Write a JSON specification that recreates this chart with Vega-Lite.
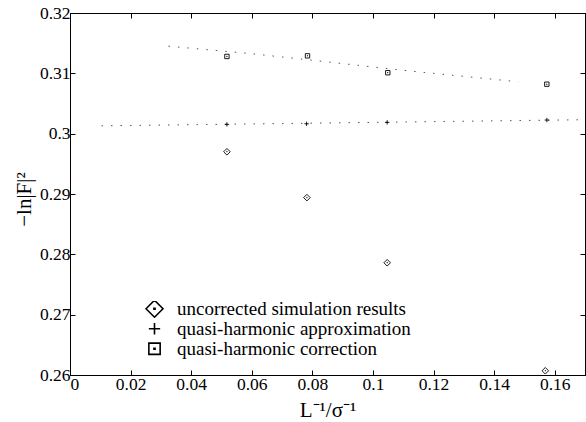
{
  "$schema": "https://vega.github.io/schema/vega-lite/v6.json",
  "width": 515,
  "height": 362,
  "autosize": {"type": "none"},
  "padding": {"left": 70, "top": 13, "right": 1, "bottom": 47},
  "background": "white",
  "config": {
    "font": "Liberation Serif",
    "view": {"stroke": "black", "strokeWidth": 1},
    "axis": {
      "domainColor": "black",
      "tickColor": "black",
      "labelColor": "black",
      "titleColor": "black",
      "labelFont": "Liberation Serif",
      "titleFont": "Liberation Serif",
      "labelFontSize": 17.5,
      "titleFontWeight": "normal",
      "grid": false,
      "tickSize": -5,
      "labelPadding": 5
    },
    "legend": {
      "labelFont": "Liberation Serif",
      "labelFontSize": 19,
      "labelColor": "black",
      "labelLimit": 0
    }
  },
  "datasets": {
    "curves": [
      {"curve": "approximation", "x": 0.0104, "y": 0.3013},
      {"curve": "approximation", "x": 0.168, "y": 0.3023},
      {"curve": "correction", "x": 0.0325, "y": 0.3145},
      {"curve": "correction", "x": 0.059, "y": 0.3133},
      {"curve": "correction", "x": 0.0795, "y": 0.3122},
      {"curve": "correction", "x": 0.11, "y": 0.3105},
      {"curve": "correction", "x": 0.148, "y": 0.3086}
    ],
    "points": [
      {"series": "uncorrected simulation results", "x": 0.0518, "y": 0.2970},
      {"series": "uncorrected simulation results", "x": 0.0782, "y": 0.2894},
      {"series": "uncorrected simulation results", "x": 0.1047, "y": 0.2786},
      {"series": "uncorrected simulation results", "x": 0.1569, "y": 0.2607},
      {"series": "quasi-harmonic approximation", "x": 0.0518, "y": 0.30154},
      {"series": "quasi-harmonic approximation", "x": 0.0781, "y": 0.30164},
      {"series": "quasi-harmonic approximation", "x": 0.1047, "y": 0.30187},
      {"series": "quasi-harmonic approximation", "x": 0.1574, "y": 0.30226},
      {"series": "quasi-harmonic correction", "x": 0.0518, "y": 0.3128},
      {"series": "quasi-harmonic correction", "x": 0.0784, "y": 0.3129},
      {"series": "quasi-harmonic correction", "x": 0.1049, "y": 0.3101},
      {"series": "quasi-harmonic correction", "x": 0.1574, "y": 0.3082}
    ]
  },
  "layer": [
    {
      "data": {"name": "curves"},
      "mark": {"type": "line", "stroke": "#555", "strokeWidth": 1, "strokeDash": [1.5, 8], "clip": true},
      "encoding": {
        "x": {
          "field": "x", "type": "quantitative",
          "scale": {"domain": [0, 0.17], "nice": false, "zero": false},
          "axis": {"orient": "bottom", "values": [0, 0.02, 0.04, 0.06, 0.08, 0.1, 0.12, 0.14, 0.16], "format": ".2~f", "title": "L⁻¹/σ⁻¹", "titleFontSize": 21, "titlePadding": 7}
        },
        "y": {
          "field": "y", "type": "quantitative",
          "scale": {"domain": [0.26, 0.32], "nice": false, "zero": false},
          "axis": {"orient": "left", "values": [0.26, 0.27, 0.28, 0.29, 0.3, 0.31, 0.32], "format": ".2~f", "title": "−ln|F|²", "titleFontSize": 21, "titlePadding": 5, "titleY": 186}
        },
        "detail": {"field": "curve"}
      }
    },
    {
      "data": {"name": "points"},
      "mark": {"type": "point", "filled": false, "stroke": "black", "strokeWidth": 0.9, "size": 30, "opacity": 1},
      "encoding": {
        "x": {
          "field": "x", "type": "quantitative",
          "scale": {"domain": [0, 0.17], "nice": false, "zero": false},
          "axis": {"orient": "top", "values": [0, 0.02, 0.04, 0.06, 0.08, 0.1, 0.12, 0.14, 0.16], "labels": false, "title": null}
        },
        "y": {
          "field": "y", "type": "quantitative",
          "scale": {"domain": [0.26, 0.32], "nice": false, "zero": false},
          "axis": {"orient": "right", "values": [0.26, 0.27, 0.28, 0.29, 0.3, 0.31, 0.32], "labels": false, "title": null}
        },
        "shape": {
          "field": "series", "type": "nominal",
          "scale": {
            "domain": ["uncorrected simulation results", "quasi-harmonic approximation", "quasi-harmonic correction"],
            "range": [
              "M0,-1.2L1.2,0L0,1.2L-1.2,0Z M-0.08,-0.08H0.08V0.08H-0.08Z",
              "M-0.8,0H0.8M0,-0.8V0.8",
              "M-0.8,-0.8H0.8V0.8H-0.8Z M-0.08,-0.08H0.08V0.08H-0.08Z"
            ]
          },
          "legend": {
            "orient": "none",
            "legendX": 75,
            "legendY": 288,
            "title": null,
            "padding": 0,
            "symbolSize": 200,
            "symbolStrokeColor": "black",
            "symbolStrokeWidth": 1.6,
            "symbolFillColor": "transparent",
            "labelOffset": 13,
            "rowPadding": 0,
            "clipHeight": 15.5
          }
        }
      }
    }
  ],
  "resolve": {"axis": {"x": "independent", "y": "independent"}}
}
